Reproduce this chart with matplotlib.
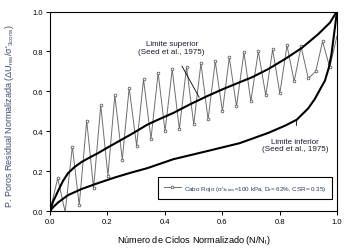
import matplotlib
matplotlib.use("Agg")
import matplotlib.pyplot as plt
from matplotlib.ticker import FormatStrFormatter

plt.rcParams["font.family"] = ["Liberation Sans", "DejaVu Sans"]
plt.rcParams["mathtext.fontset"] = "custom"
plt.rcParams["mathtext.rm"] = "Liberation Sans"
plt.rcParams["mathtext.it"] = "Liberation Sans:italic"
plt.rcParams["mathtext.default"] = "regular"

# Cabo Rojo test, normalized residual pore pressure vs N/Nl
ciclos = [0.0, 0.027, 0.053, 0.078, 0.102, 0.128, 0.152, 0.177, 0.202, 0.226,
          0.252, 0.276, 0.302, 0.326, 0.352, 0.377, 0.401, 0.426, 0.451, 0.476,
          0.501, 0.526, 0.551, 0.576, 0.601, 0.625, 0.65, 0.676, 0.70, 0.726,
          0.752, 0.776, 0.801, 0.826, 0.851, 0.875, 0.90, 0.926, 0.95, 0.975, 0.999]
ru = [0.0, 0.165, -0.005, 0.323, 0.03, 0.452, 0.115, 0.53, 0.177, 0.58,
      0.258, 0.618, 0.327, 0.66, 0.362, 0.693, 0.40, 0.71, 0.41, 0.723,
      0.435, 0.74, 0.46, 0.75, 0.50, 0.77, 0.525, 0.795, 0.55, 0.80,
      0.58, 0.81, 0.59, 0.83, 0.65, 0.825, 0.665, 0.70, 0.85, 0.72, 0.87]

# Seed et al. (1975) bounds
sup_x = [0.0, 0.01, 0.028, 0.045, 0.063, 0.085, 0.109, 0.14, 0.167, 0.2, 0.225,
         0.283, 0.339, 0.372, 0.43, 0.488, 0.546, 0.604, 0.66, 0.703, 0.761,
         0.819, 0.877, 0.935, 0.976, 0.993, 1.0]
sup_y = [0.0, 0.045, 0.1, 0.15, 0.19, 0.22, 0.245, 0.27, 0.29, 0.318, 0.338,
         0.385, 0.433, 0.455, 0.492, 0.535, 0.575, 0.612, 0.645, 0.67, 0.712,
         0.762, 0.817, 0.887, 0.945, 0.985, 1.0]
inf_x = [0.0, 0.01, 0.028, 0.063, 0.109, 0.167, 0.225, 0.283, 0.339, 0.43,
         0.546, 0.66, 0.703, 0.761, 0.819, 0.86, 0.9, 0.923, 0.945, 0.958,
         0.972, 0.981, 0.993, 1.0]
inf_y = [0.0, 0.018, 0.043, 0.08, 0.11, 0.14, 0.168, 0.193, 0.215, 0.26,
         0.3, 0.34, 0.362, 0.392, 0.428, 0.458, 0.515, 0.562, 0.62, 0.653,
         0.72, 0.787, 0.92, 1.0]

ticks = [0.0, 0.2, 0.4, 0.6, 0.8, 1.0]

fig = plt.figure(figsize=(3.47, 2.51), dpi=100)
ax = fig.add_axes([0.144, 0.155, 0.827, 0.795])

ax.plot(ciclos, ru, color="#6e6e6e", lw=0.7, marker="o", ms=2.0,
        mfc="white", mec="#444444", mew=0.5,
        label="Cabo Rojo (σ'$_{3cons}$=100 kPa, D$_r$= 62%, CSR= 0.35)")
ax.plot(sup_x, sup_y, color="black", lw=1.5)
ax.plot(inf_x, inf_y, color="black", lw=1.5)

ax.set_xlim(0, 1)
ax.set_ylim(0, 1)
ax.set_xticks(ticks)
ax.set_yticks(ticks)
ax.xaxis.set_major_formatter(FormatStrFormatter("%.1f"))
ax.yaxis.set_major_formatter(FormatStrFormatter("%.1f"))
ax.tick_params(direction="out", length=3, width=0.7, labelsize=5.5, pad=2)
for s in ax.spines.values():
    s.set_linewidth(0.8)

ax.set_xlabel("Número de Ciclos Normalizado (N/N$_l$)", fontsize=6.6, labelpad=6)
ax.set_ylabel("P. Poros Residual Normalizada (ΔU$_{res}$/σ'$_{3cons}$)",
              fontsize=6.5, color="#3a4a70")
ax.yaxis.set_label_coords(-0.118, 0.48)

ax.annotate("Limite superior\n(Seed et al., 1975)", xy=(0.52, 0.57),
            xytext=(0.424, 0.82), fontsize=5.8, ha="center", va="center",
            color="#1a1a33", linespacing=1.1,
            arrowprops=dict(arrowstyle="-", lw=0.6, color="black",
                            shrinkA=7, shrinkB=0))
ax.annotate("Limite inferior\n(Seed et al., 1975)", xy=(0.86, 0.46),
            xytext=(0.855, 0.33), fontsize=5.8, ha="center", va="center",
            color="#1a1a33", linespacing=1.1,
            arrowprops=dict(arrowstyle="-", lw=0.6, color="black",
                            shrinkA=7, shrinkB=0))

leg = ax.legend(loc="center", bbox_to_anchor=(0.366, 0.06, 0.627, 0.11),
                mode="expand", fontsize=4.5, frameon=True, fancybox=False,
                edgecolor="black", framealpha=1, handlelength=2.6,
                handletextpad=0.6, borderpad=1.0, labelcolor="#2a3a66")
leg.get_frame().set_linewidth(0.8)

fig.savefig("out.png", dpi=100)
